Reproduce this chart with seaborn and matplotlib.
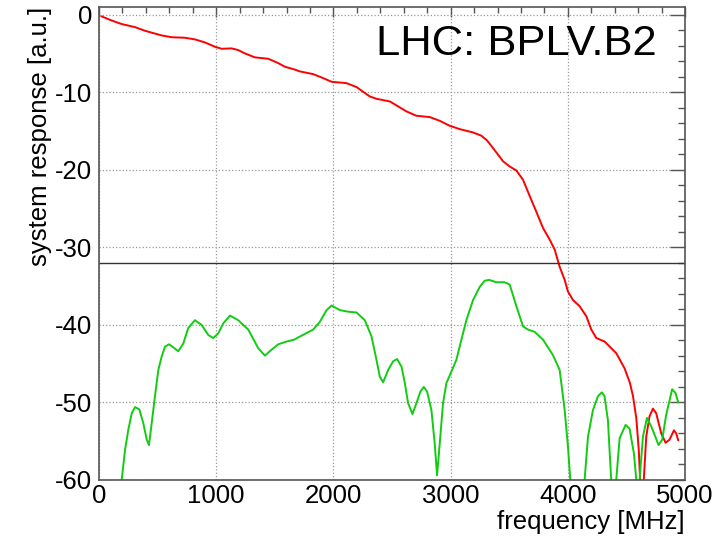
import numpy as np
import pandas as pd
import matplotlib
matplotlib.use("Agg")
import matplotlib.pyplot as plt
from matplotlib.ticker import MultipleLocator
import seaborn as sns

# I set a plain white style and then the font (set_theme resets font.family)
sns.set_theme(style="white")
plt.rcParams['font.family'] = ['Liberation Sans', 'DejaVu Sans']
plt.rcParams['axes.unicode_minus'] = False
plt.rcParams['text.color'] = 'black'
plt.rcParams['axes.labelcolor'] = 'black'

# 1. DATA

# red trace: system response
red_freq = [20, 100, 193, 307, 392, 534, 619, 733, 818, 903, 989, 1046, 1131, 1188,
            1245, 1330, 1444, 1529, 1586, 1666, 1714, 1827, 1912, 1984, 2111, 2197,
            2310, 2367, 2481, 2623, 2708, 2822, 2907, 2992, 3077, 3191, 3262, 3310,
            3362, 3447, 3504, 3561, 3618, 3675, 3731, 3788, 3845, 3888, 3930, 3973,
            4001, 4044, 4101, 4158, 4200, 4243, 4314, 4413, 4484, 4530, 4556, 4584,
            4606, 4618, 4630, 4646, 4669, 4697, 4726, 4754, 4797, 4834, 4868, 4905,
            4925, 4942]
red_resp = [-0.2, -0.7, -1.2, -1.6, -2.07, -2.67, -2.9, -2.97, -3.18, -3.57, -4.13,
            -4.39, -4.34, -4.56, -4.99, -5.5, -5.68, -6.24, -6.71, -7.05, -7.31, -7.66,
            -8.17, -8.65, -8.82, -9.33, -10.54, -10.84, -11.18, -12.47, -13.03, -13.2,
            -13.68, -14.32, -14.75, -15.18, -15.6, -16.2, -17.2, -18.9, -19.57, -20.09,
            -21.3, -23.4, -25.4, -27.5, -29.0, -30.3, -32.5, -34.2, -35.7, -36.8,
            -37.6, -38.9, -40.6, -41.7, -42.15, -43.65, -45.6, -47.5, -49.2, -52.0,
            -56.3, -60.5, -63.0, -60.5, -54.4, -51.8, -50.8, -51.4, -54.0, -55.2,
            -54.8, -53.6, -54.0, -54.9]

# green trace
green_freq = [170, 193, 222, 250, 279, 307, 344, 378, 407, 426, 449, 477, 506, 534,
              563, 597, 634, 676, 719, 761, 818, 875, 932, 975, 1017, 1060, 1117, 1188,
              1273, 1358, 1415, 1472, 1529, 1600, 1665, 1714, 1827, 1884, 1941, 1984,
              2055, 2126, 2197, 2268, 2325, 2367, 2396, 2424, 2467, 2509, 2543, 2581,
              2609, 2637, 2674, 2708, 2742, 2771, 2799, 2836, 2864, 2884, 2907, 2935,
              2964, 3007, 3049, 3092, 3134, 3191, 3248, 3291, 3330, 3390, 3461, 3504,
              3561, 3618, 3660, 3717, 3788, 3873, 3930, 3973, 4001, 4021, 4040, 4080,
              4120, 4143, 4172, 4214, 4257, 4290, 4313, 4342, 4370, 4390, 4413, 4442,
              4493, 4527, 4564, 4584, 4598, 4612, 4641, 4675, 4712, 4746, 4774, 4805,
              4839, 4890, 4919, 4942]
green_resp = [-64, -60, -56.1, -53.5, -51.4, -50.6, -50.9, -52.7, -54.8, -55.5, -52.7,
              -49.2, -45.8, -44.1, -42.8, -42.5, -42.9, -43.4, -42.4, -40.4, -39.4,
              -40.0, -41.3, -41.7, -41.1, -39.8, -38.8, -39.4, -40.6, -43.0, -43.96,
              -43.2, -42.5, -42.15, -41.9, -41.5, -40.6, -39.6, -38.1, -37.5, -38.1,
              -38.3, -38.4, -39.4, -41.5, -44.5, -46.7, -47.4, -45.8, -44.7, -44.4,
              -45.4, -47.5, -50.1, -51.5, -50.1, -48.6, -48.0, -48.6, -51.0, -55.3,
              -59.4, -55.3, -50.1, -47.5, -46.0, -44.5, -41.9, -39.4, -36.8, -35.1,
              -34.3, -34.2, -34.5, -34.5, -34.8, -37.6, -40.2, -40.6, -40.9, -41.9,
              -43.9, -45.8, -51.0, -55.7, -60.0, -65.0, -72.0, -65.0, -60.0, -54.4,
              -51.0, -49.2, -48.7, -49.2, -52.3, -60.0, -66.0, -60.0, -54.6, -52.9,
              -53.4, -56.6, -60.0, -64.0, -60.0, -54.4, -52.0, -53.1, -54.4, -55.5,
              -54.8, -51.6, -48.3, -48.8, -50.0]

threshold = -32
title_text = "LHC: BPLV.B2"
x_label = "frequency [MHz]"
y_label = "system response [a.u.]"

df_red = pd.DataFrame({'freq': red_freq, 'resp': red_resp})
df_green = pd.DataFrame({'freq': green_freq, 'resp': green_resp})

# 2. FIGURE

fig = plt.figure(figsize=(7.23, 5.41), dpi=100)
ax = fig.add_axes([0.137, 0.1128, 0.8105, 0.8743])

sns.lineplot(data=df_red, x='freq', y='resp', ax=ax, color='#ff0000',
             linewidth=1.4, sort=False, estimator=None)
sns.lineplot(data=df_green, x='freq', y='resp', ax=ax, color='#11cc11',
             linewidth=1.4, sort=False, estimator=None)

# I draw the black threshold line across the whole frame
ax.axhline(threshold, color='#333333', linewidth=1.0)

ax.set_xlim(0, 5000)
ax.set_ylim(-60, 1)

# I set ROOT-like ticks: inward, on all four sides
ax.xaxis.set_major_locator(MultipleLocator(1000))
ax.xaxis.set_minor_locator(MultipleLocator(200))
ax.yaxis.set_major_locator(MultipleLocator(10))
ax.yaxis.set_minor_locator(MultipleLocator(2))
ax.tick_params(which='both', direction='in', top=True, right=True,
               color='#555555', width=1.0, labelsize=18.5, labelcolor='black')
ax.tick_params(axis='x', which='major', length=7, pad=3)
ax.tick_params(axis='x', which='minor', length=4.5)
ax.tick_params(axis='y', which='major', length=11, pad=5)
ax.tick_params(axis='y', which='minor', length=5)

for spine in ax.spines.values():
    spine.set_color('#555555')
    spine.set_linewidth(1.2)

ax.grid(True, which='major', linestyle=':', color='#999999', linewidth=0.9)

ax.set_xlabel(x_label, loc='right', fontsize=18.5, labelpad=1, color='black')
ax.set_ylabel(y_label, loc='top', fontsize=18.5, labelpad=2, color='black')

ax.text(0.713, 0.899, title_text, transform=ax.transAxes, ha='center',
        va='baseline', fontsize=31.3, color='black')

plt.savefig("out.png", dpi=100)
